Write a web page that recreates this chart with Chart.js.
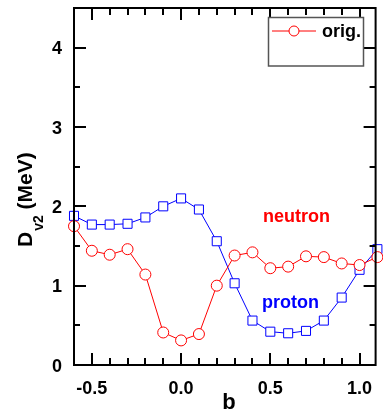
<!DOCTYPE html>
<html><head><meta charset="utf-8">
<script src="https://cdn.jsdelivr.net/npm/chart.js@4/dist/chart.umd.min.js"></script>
<style>html,body{margin:0;padding:0;background:#fff;overflow:hidden}#wrap{width:383px;height:410px;position:relative}</style>
</head><body><div id="wrap"><canvas id="c" width="383" height="410"></canvas></div>
<script>
const bValues = [-0.6,-0.5,-0.4,-0.3,-0.2,-0.1,0.0,0.1,0.2,0.3,0.4,0.5,0.6,0.7,0.8,0.9,1.0,1.1];
const neutron = [1.75,1.44,1.39,1.46,1.14,0.41,0.31,0.39,1.00,1.38,1.42,1.22,1.24,1.37,1.36,1.28,1.26,1.36];
const proton  = [1.88,1.77,1.77,1.78,1.86,2.00,2.10,1.96,1.56,1.03,0.56,0.42,0.40,0.43,0.56,0.85,1.20,1.46];
const xTickValues = [-0.5,0.0,0.5,1.0];
const xTickLabels = ['-0.5','0.0','0.5','1.0'];
const yTickValues = [0,1,2,3,4];
const yTickLabels = ['0','1','2','3','4'];
const legendLabel = 'orig.';
const seriesNames = ['neutron','proton'];

const FONT = '"Liberation Sans", Arial, sans-serif';
const RED = '#ff0000', BLUE = '#0000ff';

const framePlugin = {
  id:'frame',
  afterDraw(chart){
    const ctx = chart.ctx, a = chart.chartArea;
    const xs = chart.scales.x, ys = chart.scales.y;
    ctx.save();
    ctx.strokeStyle = '#000';
    ctx.lineWidth = 2;
    ctx.beginPath();
    for (let k=-6;k<=10;k++){
      const v = k/10;
      const px = Math.round(xs.getPixelForValue(v));
      const len = (k%5===0)?12:7;
      ctx.moveTo(px, a.bottom); ctx.lineTo(px, a.bottom-len);
      ctx.moveTo(px, a.top); ctx.lineTo(px, a.top+len);
    }
    for (let k=0;k<=9;k++){
      const v = k/2;
      const py = Math.round(ys.getPixelForValue(v));
      const len = (k%2===0)?12:6;
      ctx.moveTo(a.left, py); ctx.lineTo(a.left+len, py);
      ctx.moveTo(a.right, py); ctx.lineTo(a.right-len, py);
    }
    ctx.stroke();
    ctx.strokeRect(a.left, a.top, a.right-a.left, a.bottom-a.top);

    // tick labels
    ctx.fillStyle = '#000';
    ctx.font = 'bold 18px '+FONT;
    ctx.textBaseline = 'alphabetic';
    ctx.textAlign = 'center';
    xTickValues.forEach((v,i)=>{
      ctx.fillText(xTickLabels[i], xs.getPixelForValue(v), 394);
    });
    ctx.textAlign = 'right';
    yTickValues.forEach((v,i)=>{
      ctx.fillText(yTickLabels[i], 62, ys.getPixelForValue(v)+6.5);
    });

    // y title with subscript
    ctx.save();
    ctx.translate(31.5, 247);
    ctx.rotate(-Math.PI/2);
    ctx.textAlign = 'left';
    ctx.font = 'bold 21px '+FONT;
    ctx.fillText('D', 0, 0);
    let w = ctx.measureText('D').width;
    ctx.font = 'bold 14px '+FONT;
    ctx.fillText('v2', w+1, 11);
    w += 1 + ctx.measureText('v2').width;
    ctx.font = 'bold 21px '+FONT;
    ctx.fillText(' (MeV)', w, 0);
    ctx.restore();

    // x title
    ctx.font = 'bold 22px '+FONT;
    ctx.textAlign = 'center';
    ctx.fillText('b', 229, 409);

    // annotations
    ctx.textAlign = 'left';
    ctx.font = 'bold 18px '+FONT;
    ctx.fillStyle = RED;
    ctx.fillText(seriesNames[0], 263, 222);
    ctx.fillStyle = BLUE;
    ctx.fillText(seriesNames[1], 262, 308);

    // legend box
    ctx.fillStyle = '#fff';
    ctx.fillRect(268.5, 17.5, 95, 48.5);
    ctx.strokeStyle = '#555';
    ctx.lineWidth = 1.5;
    ctx.strokeRect(268.5, 17.5, 95, 48.5);
    ctx.strokeStyle = RED;
    ctx.lineWidth = 1;
    ctx.beginPath(); ctx.moveTo(272, 31); ctx.lineTo(316, 31); ctx.stroke();
    ctx.beginPath(); ctx.arc(294, 31, 5, 0, Math.PI*2);
    ctx.fillStyle = '#fff'; ctx.fill(); ctx.stroke();
    ctx.fillStyle = '#000';
    ctx.font = 'bold 18px '+FONT;
    ctx.fillText(legendLabel, 322, 37);
    ctx.restore();
  }
};

new Chart(document.getElementById('c'), {
  type:'line',
  data:{
    datasets:[
      {label:seriesNames[0], data:bValues.map((b,i)=>({x:b,y:neutron[i]})),
       borderColor:RED, borderWidth:1, backgroundColor:'#fff',
       pointStyle:'circle', pointRadius:5.5, pointBorderColor:RED, pointBackgroundColor:'#fff', pointBorderWidth:1,
       tension:0, clip:false},
      {label:seriesNames[1], data:bValues.map((b,i)=>({x:b,y:proton[i]})),
       borderColor:BLUE, borderWidth:1, backgroundColor:'#fff',
       pointStyle:'rect', pointRadius:6.4, pointBorderColor:BLUE, pointBackgroundColor:'#fff', pointBorderWidth:1,
       tension:0, clip:false}
    ]
  },
  options:{
    responsive:false, animation:false, devicePixelRatio:1,
    layout:{padding:{left:74, top:8, right:2, bottom:45}},
    plugins:{legend:{display:false}, tooltip:{enabled:false}},
    scales:{
      x:{type:'linear', min:-0.6, max:1.09, display:false},
      y:{type:'linear', min:0, max:4.5, display:false}
    }
  },
  plugins:[framePlugin]
});
</script></body></html>
